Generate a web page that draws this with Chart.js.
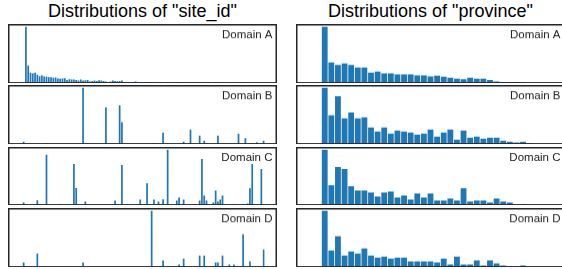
<!DOCTYPE html>
<html>
<head>
<meta charset="utf-8">
<script src="https://cdn.jsdelivr.net/npm/chart.js@4/dist/chart.umd.min.js"></script>
<style>
  html, body { margin: 0; padding: 0; background: #fff; overflow: hidden; }
  body { width: 562px; height: 269px; position: relative; font-family: "Liberation Sans", Arial, sans-serif; }
  .title { position: absolute; top: 1px; font-size: 18px; line-height: 20px; color: #000; text-align: center; white-space: nowrap; }
  .panel { position: absolute; }
</style>
</head>
<body>
<div class="title" style="left:8px;width:269px">Distributions of "site_id"</div>
<div class="title" style="left:296px;width:269px">Distributions of "province"</div>

<script>
// ---- data (counts, arbitrary units) ----
const domains = ['Domain A', 'Domain B', 'Domain C', 'Domain D'];

const siteA = [2, 2, 165, 53, 32, 30, 32, 26, 22, 24, 21, 20, 19, 19, 17, 18, 15, 14, 15, 16,
  11, 13, 12, 12, 11, 9, 12, 9, 10, 11, 6, 8, 9, 8, 10, 9, 8, 6, 5, 6,
  9, 8, 7, 8, 9, 5, 4, 5, 3, 5, 6, 5, 4, 5, 3, 4, 3, 4, 3, 3,
  4, 3, 2, 3, 4, 2, 3, 2, 3, 4, 3, 2, 3, 2, 3, 2, 2, 3, 2, 3,
  2, 2, 3, 2, 2, 3, 2, 4, 3, 2, 2, 2, 3, 2, 2, 2, 3, 2, 2, 2,
  2, 2, 2, 2, 1, 1, 0];
const siteB = [0, 9, 0, 0, 0, 0, 0, 0, 0, 0, 0, 4, 0, 0, 0, 0, 0, 0, 0, 0,
  0, 0, 0, 0, 0, 0, 0, 169, 0, 0, 0, 0, 0, 0, 0, 0, 0, 111, 0, 0,
  0, 0, 0, 117, 67, 0, 0, 0, 0, 0, 0, 0, 0, 0, 0, 0, 0, 0, 4, 0,
  0, 0, 36, 0, 0, 0, 0, 0, 0, 0, 0, 9, 0, 0, 45, 0, 0, 0, 27, 0,
  12, 4, 0, 0, 0, 0, 27, 0, 0, 0, 0, 4, 0, 0, 0, 33, 0, 0, 19, 0,
  4, 4, 0, 7, 0, 0, 12];
const siteC = [0, 9, 0, 0, 0, 0, 0, 16, 0, 0, 0, 150, 0, 0, 0, 0, 0, 4, 0, 0,
  0, 0, 0, 123, 52, 0, 0, 0, 12, 0, 0, 0, 0, 0, 0, 0, 0, 0, 0, 0,
  0, 15, 0, 0, 120, 0, 0, 0, 0, 0, 0, 0, 18, 0, 4, 66, 0, 0, 18, 0,
  12, 0, 19, 0, 165, 0, 0, 0, 15, 24, 0, 18, 0, 0, 0, 0, 0, 0, 15, 138,
  30, 15, 0, 0, 9, 45, 12, 18, 30, 0, 0, 0, 0, 4, 0, 0, 0, 0, 0, 6,
  51, 123, 0, 4, 0, 108, 0];
const siteD = [0, 15, 0, 0, 0, 0, 0, 42, 0, 0, 0, 0, 0, 0, 0, 0, 0, 3, 0, 0,
  0, 0, 0, 3, 0, 0, 0, 15, 0, 0, 0, 0, 0, 0, 0, 0, 0, 0, 0, 0,
  0, 0, 0, 0, 0, 0, 0, 0, 0, 0, 0, 0, 0, 0, 0, 0, 0, 168, 0, 0,
  0, 0, 21, 0, 0, 0, 0, 0, 0, 9, 0, 27, 0, 0, 0, 0, 0, 0, 36, 0,
  36, 3, 0, 0, 4, 15, 15, 0, 36, 0, 0, 9, 0, 9, 0, 0, 0, 99, 0, 0,
  18, 0, 0, 0, 0, 0, 54];

const provA = [2, 2, 165, 62, 54, 59, 54, 47, 47, 32, 35, 30, 30, 27, 27, 27, 24, 24, 21, 23,
  20, 17, 14, 13, 17, 14, 14, 11, 6, 5, 5, 5, 3, 1, 1, 1, 1];
const provB = [2, 2, 169, 87, 144, 78, 96, 78, 81, 51, 39, 51, 33, 42, 39, 36, 30, 33, 45, 24,
  36, 45, 15, 42, 21, 24, 18, 21, 21, 12, 9, 6, 9, 3, 1, 1, 0];
const provC = [2, 2, 165, 60, 114, 108, 57, 45, 45, 39, 27, 39, 42, 24, 30, 18, 36, 24, 36, 15,
  15, 21, 15, 51, 12, 15, 15, 9, 21, 12, 9, 3, 3, 1, 1, 1, 0];
const provD = [2, 2, 168, 51, 93, 36, 48, 42, 57, 36, 30, 33, 27, 30, 30, 18, 18, 18, 18, 15,
  27, 9, 33, 9, 9, 21, 6, 21, 12, 6, 3, 3, 6, 1, 1, 1, 0];

const siteLabels = siteA.map((_, i) => 'site ' + i);
const provLabels = provA.map((_, i) => 'province ' + i);

// ---- layout ----
const rowTops = [24, 85.4, 146.8, 208.2];
const rowH = 58.6;
const colLeft = [8, 296];
const colW = 269;

// frame + domain label drawn on top of each panel
const framePlugin = {
  id: 'frame',
  afterDraw(chart, args, opts) {
    const ctx = chart.ctx;
    const w = chart.width, h = chart.height;
    ctx.save();
    ctx.strokeStyle = '#262626';
    ctx.lineWidth = 1.5;
    ctx.strokeRect(0.75, 0.75, w - 1.5, h - 1.5);
    ctx.fillStyle = '#222';
    ctx.font = '11.5px "Liberation Sans", Arial, sans-serif';
    ctx.textAlign = 'right';
    ctx.textBaseline = 'alphabetic';
    ctx.fillText(opts.label, w - 4.5, 14);
    ctx.restore();
  }
};

function makePanel(col, row, labels, values, barPct) {
  const div = document.createElement('div');
  div.className = 'panel';
  div.style.left = colLeft[col] + 'px';
  div.style.top = rowTops[row] + 'px';
  div.style.width = colW + 'px';
  div.style.height = rowH + 'px';
  const canvas = document.createElement('canvas');
  div.appendChild(canvas);
  document.body.appendChild(div);

  const ymax = Math.max(...values) * 1.05;
  return new Chart(canvas, {
    type: 'bar',
    data: {
      labels,
      datasets: [{
        data: values,
        backgroundColor: '#1f77b4',
        borderWidth: 0,
        barPercentage: barPct,
        categoryPercentage: 1
      }]
    },
    options: {
      responsive: true,
      maintainAspectRatio: false,
      animation: false,
      layout: { padding: { left: 12.2, right: 12.2, top: 0, bottom: 0 } },
      scales: {
        x: { display: false, grid: { display: false } },
        y: { display: false, min: 0, max: ymax, grid: { display: false } }
      },
      plugins: {
        legend: { display: false },
        tooltip: { enabled: false },
        frame: { label: domains[row] }
      }
    },
    plugins: [framePlugin]
  });
}

[siteA, siteB, siteC, siteD].forEach((vals, r) => makePanel(0, r, siteLabels, vals, 0.75));
[provA, provB, provC, provD].forEach((vals, r) => makePanel(1, r, provLabels, vals, 0.88));
</script>
</body>
</html>
